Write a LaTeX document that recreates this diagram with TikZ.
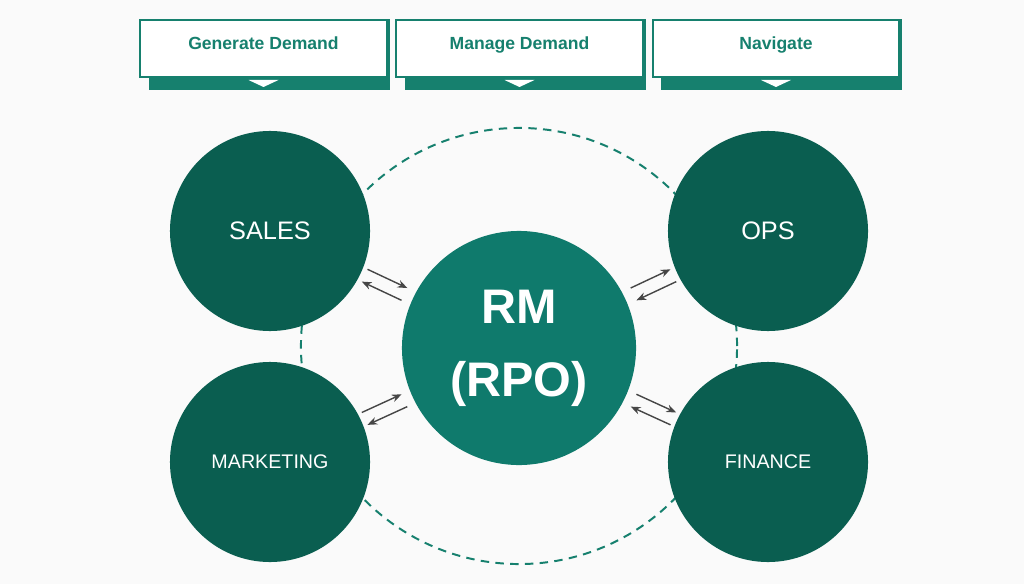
\documentclass[tikz,border=0pt]{standalone}
\usepackage{fontspec}
\setmainfont{Liberation Sans}
\usetikzlibrary{arrows.meta, calc}
\definecolor{bg}{RGB}{250, 250, 250}
\definecolor{darkteal}{RGB}{10, 94, 80}
\definecolor{midteal}{RGB}{15, 122, 108}
\definecolor{boxteal}{RGB}{22, 128, 110}
\definecolor{arrowgrey}{RGB}{70, 70, 70}
\newcommand{\header}[3]{
  \fill[boxteal] (#2 - 115, 19) rectangle (#2 + 126, 90);
  \node[headbox] (#1) at (#2, 48.5) {#3};
  \fill[white] ([shift={(-15, 2)}]#1.south) 
            -- ([shift={(15, 2)}]#1.south) 
            -- ([shift={(0, 9)}]#1.south) 
            -- cycle;
}

\begin{document}
\begin{tikzpicture}[x=0.025cm, y=-0.025cm,
  unit/.style={circle, fill=darkteal, text=white, minimum size=5cm, inner sep=0pt},
  hub/.style={circle, fill=midteal, text=white, minimum size=5.85cm, inner sep=0pt,
    align=center, font=\bfseries\fontsize{34.5}{52}\selectfont},
  headbox/.style={draw=boxteal, line width=1.4pt, fill=white, text=boxteal,
    minimum width=6.15cm, minimum height=1.425cm, text height=10pt, text depth=8.6pt,
    font=\bfseries\fontsize{12.5}{15}\selectfont},
  link/.style={arrowgrey, line width=1pt, -{Stealth[length=7pt, width=5.5pt]}},
  ring/.style={boxteal, line width=1.4pt, dash pattern=on 6pt off 4.5pt}]

  \fill[bg] (0, 0) rectangle (1024, 584);

  % headers
  \header{generate}{263.5}{Generate Demand}
  \header{manage}{519.5}{Manage Demand}
  \header{navigate}{776}{Navigate}

  % dashed ring
  \coordinate (centre) at (519, 346);
  \draw[ring] (centre) circle [radius=5.45cm];

  % circles
  \node[unit, font=\fontsize{18}{21}\selectfont] (sales) at (270, 231) {SALES};
  \node[unit, font=\fontsize{18}{21}\selectfont] (ops) at (768, 231) {OPS};
  \node[unit, font=\fontsize{14}{17}\selectfont] (marketing) at (270, 462) {MARKETING};
  \node[unit, font=\fontsize{14}{17}\selectfont] (finance) at (768, 462) {FINANCE};
  \node[hub] (rm) at (519, 348) {RM\\(RPO)};

  % arrow pairs
  \foreach \o in {sales, ops, marketing, finance} {
    \draw[link] ($(\o)!0.38!(rm)!0.17cm!90:(rm)$) -- ($(\o)!0.54!(rm)!0.17cm!90:(rm)$);
    \draw[link] ($(\o)!0.54!(rm)!0.17cm!-90:(rm)$) -- ($(\o)!0.38!(rm)!0.17cm!-90:(rm)$);
  };

\end{tikzpicture}
\end{document}
